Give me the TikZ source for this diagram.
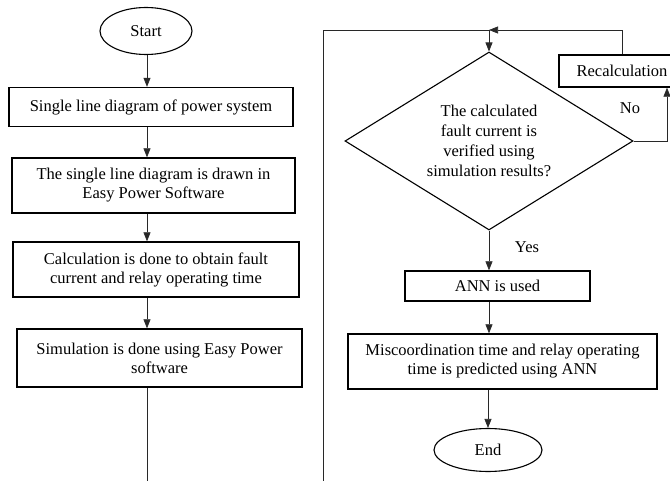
\documentclass[tikz,border=0pt]{standalone}
\usepackage{fontspec}
\setmainfont{Liberation Serif}
\usepackage{tikz}
\usetikzlibrary{shapes.geometric, arrows.meta, positioning, calc}
\definecolor{mydark}{RGB}{40,40,40}
\tikzset{
  procbox/.style={rectangle, draw=black, fill=white, align=center,
    font=\fontsize{16.5}{19}\selectfont, line width=1.4pt, inner sep=2pt},
  termnode/.style={ellipse, draw=black, fill=white, align=center,
    font=\fontsize{16.5}{19}\selectfont, line width=1.1pt, inner sep=0pt},
  decision/.style={diamond, draw=black, fill=white, align=center,
    font=\fontsize{16.5}{20}\selectfont, line width=1.1pt, inner sep=0pt,
    aspect=1.62},
  arrow/.style={-{Triangle[length=9pt, width=7pt]}, line width=0.7pt, color=mydark},
  line/.style={line width=0.7pt, color=mydark},
  lbl/.style={font=\fontsize{16.5}{19}\selectfont}
}
\begin{document}
\begin{tikzpicture}[x=1pt, y=-1pt]
  \useasboundingbox (0,0) rectangle (670,481);

  % Left column
  \node[termnode, minimum width=92pt, minimum height=47pt] (start) at (146,31) {Start};
  \node[procbox, minimum width=284pt, minimum height=39pt] (sld) at (151,107)
    {Single line diagram of power system};
  \node[procbox, minimum width=283pt, minimum height=55pt] (drawn) at (153.5,185.5)
    {The single line diagram is drawn in\\Easy Power Software};
  \node[procbox, minimum width=286pt, minimum height=55pt] (calc) at (156,269.5)
    {Calculation is done to obtain fault\\current and relay operating time};
  \node[procbox, minimum width=285pt, minimum height=58pt] (sim) at (159.5,358)
    {Simulation is done using Easy Power\\software};
  \coordinate (leftend) at (147,481);

  % Right column
  \coordinate (rightend) at (323,481);
  \coordinate (merge) at (489,30);
  \node[decision, minimum width=288pt, minimum height=178pt] (dia) at (489,141)
    {The calculated\\fault current is\\verified using\\simulation results?};
  \node[procbox, minimum width=126pt, minimum height=32pt] (rec) at (622,71) {Recalculation};
  \node[procbox, minimum width=185pt, minimum height=30pt] (ann) at (497.5,286) {ANN is used};
  \node[procbox, minimum width=309pt, minimum height=55pt] (misc) at (502.5,361.5)
    {Miscoordination time and relay operating\\time is predicted using ANN};
  \node[termnode, minimum width=108pt, minimum height=43pt] (end) at (488,450) {End};

  % Connections, left
  \draw[arrow] ([xshift=1pt]start.south) -- ([xshift=1pt]start.south |- sld.north);
  \draw[arrow] (sld.south -| leftend) -- (drawn.north -| leftend);
  \draw[arrow] (drawn.south -| leftend) -- (calc.north -| leftend);
  \draw[arrow] (calc.south -| leftend) -- (sim.north -| leftend);
  \draw[line] (sim.south -| leftend) -- (leftend);

  % Connections, right
  \draw[line] (rightend) |- (merge);
  \draw[arrow] (rec.north) |- (merge);
  \draw[arrow] (merge) -- (dia.north);
  \draw[arrow] (dia.east) -| ([xshift=45pt]rec.south);
  \node[lbl] (no) at (630,108) {No};
  \draw[arrow] (dia.south) -- (dia.south |- ann.north);
  \node[lbl] (yes) at (527,247) {Yes};
  \draw[arrow] (ann.south -| dia.south) -- (misc.north -| dia.south);
  \draw[arrow] (misc.south -| end.north) -- (end.north);
\end{tikzpicture}
\end{document}
